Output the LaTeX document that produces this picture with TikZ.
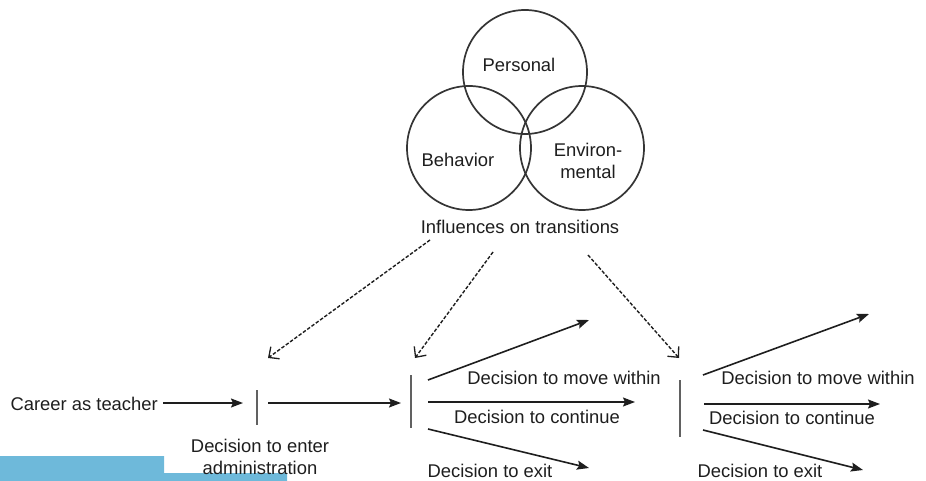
\documentclass[tikz,border=0pt]{standalone}
\usepackage{fontspec}
\setmainfont{Liberation Sans}
\usetikzlibrary{arrows.meta}
\definecolor{barblue}{RGB}{110,185,218}
\definecolor{ink}{RGB}{30,30,30}
\begin{document}
\begin{tikzpicture}[x=1pt,y=-1pt,
  every node/.style={inner sep=0pt, text=ink, font=\fontsize{18.4}{21.5}\selectfont},
  ring/.style={draw=ink!90, line width=1.7pt},
  barline/.style={draw=ink!70, line width=1.6pt},
  solidarrow/.style={draw=ink, line width=1.6pt, -{Stealth[length=12pt,width=9pt,inset=2pt]}},
  dasharrow/.style={draw=ink, line width=1.4pt, dash pattern=on 3.5pt off 1.8pt, -{Straight Barb[length=8pt,width=15pt,line width=1.3pt]}},
  lbl/.style={anchor=center}
]
\useasboundingbox (0,0) rectangle (926,481);
% blue bar
\fill[barblue] (0,456) -- (164,456) -- (164,473) -- (287,473) -- (287,481) -- (0,481) -- cycle;

% circles
\draw[ring] (525,72) circle (62);
\draw[ring] (469,148) circle (62);
\draw[ring] (582,148) circle (62);
\node[lbl] (personal) at (519,65) {Personal};
\node[lbl] (behavior) at (458,160) {Behavior};
\node[lbl, align=center] (environ) at (588,161) {Environ-\\mental};
\node[lbl] (influences) at (520,227) {Influences on transitions};

% dashed arrows
\coordinate (d1s) at (430,240);
\coordinate (d1e) at (268,358);
\coordinate (d2s) at (493,252);
\coordinate (d2e) at (415,358);
\coordinate (d3s) at (588,255);
\coordinate (d3e) at (679,358);
\draw[dasharrow] (d1s) -- (d1e);
\draw[dasharrow] (d2s) -- (d2e);
\draw[dasharrow] (d3s) -- (d3e);

% bars
\coordinate (b1t) at (257,390); \coordinate (b1b) at (257,425);
\coordinate (b2t) at (411,375); \coordinate (b2b) at (411,428);
\coordinate (b3t) at (680,380); \coordinate (b3b) at (680,437);
\draw[barline] (b1t) -- (b1b);
\draw[barline] (b2t) -- (b2b);
\draw[barline] (b3t) -- (b3b);

% career
\node[anchor=east] (career) at (158,404) {Career as teacher};
\path (career.east) ++(5,-1) coordinate (a1s);
\coordinate (a1e) at (243,403);
\draw[solidarrow] (a1s) -- (a1e);
\coordinate (a2s) at (268,403);
\coordinate (a2e) at (401,403);
\draw[solidarrow] (a2s) -- (a2e);
\node[lbl, align=center] (enter) at (260,457) {Decision to enter\\administration};

% branch 1
\coordinate (m1s) at (428,380); \coordinate (m1e) at (589,320);
\coordinate (c1s) at (428,402); \coordinate (c1e) at (635,402);
\coordinate (x1s) at (428,429); \coordinate (x1e) at (589,468);
\draw[solidarrow] (m1s) -- (m1e);
\draw[solidarrow] (c1s) -- (c1e);
\draw[solidarrow] (x1s) -- (x1e);
\node[lbl] (move1) at (564,378) {Decision to move within};
\node[lbl] (cont1) at (537,417) {Decision to continue};
\node[lbl] (exit1) at (490,471) {Decision to exit};

% branch 2
\coordinate (m2s) at (703,375); \coordinate (m2e) at (869,314);
\coordinate (c2s) at (704,404); \coordinate (c2e) at (880,404);
\coordinate (x2s) at (703,430); \coordinate (x2e) at (863,470);
\draw[solidarrow] (m2s) -- (m2e);
\draw[solidarrow] (c2s) -- (c2e);
\draw[solidarrow] (x2s) -- (x2e);
\node[lbl] (move2) at (818,378) {Decision to move within};
\node[lbl] (cont2) at (792,418) {Decision to continue};
\node[lbl] (exit2) at (760,471) {Decision to exit};
\end{tikzpicture}
\end{document}
